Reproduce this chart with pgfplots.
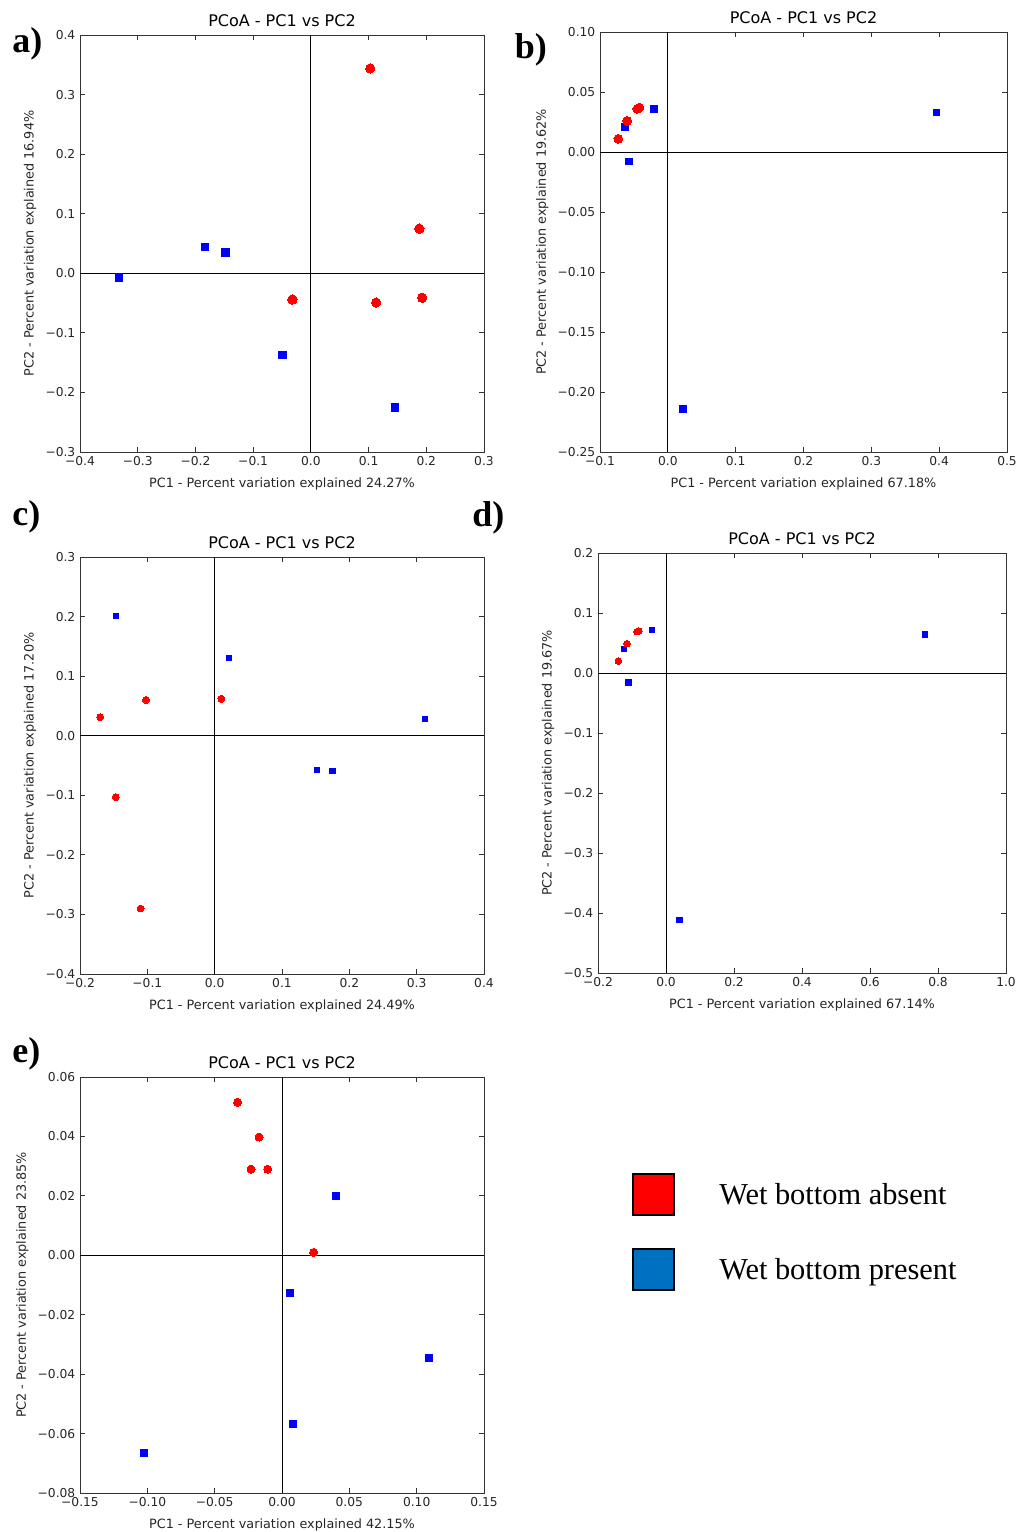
\documentclass[border=0pt]{standalone}
\usepackage{fontspec}
\setmainfont{DejaVu Sans}
\newfontfamily\serifface{Liberation Serif}
\usepackage{pgfplots}
\pgfplotsset{compat=1.18}
\definecolor{absentred}{RGB}{255,0,0}
\definecolor{presentblue}{RGB}{0,0,255}
\definecolor{legendblue}{RGB}{0,112,192}

% 1px of the reference = 0.75pt
\pgfplotsset{
  pcoa/.style={
    scale only axis,
    anchor=north west,
    scaled ticks=false,
    axis line style={black!80, line width=0.6pt},
    tick align=inside,
    major tick length=3.6pt,
    every tick/.style={black!80, line width=0.6pt},
    title={PCoA - PC1 vs PC2},
    every axis title shift=0pt,
    title style={font=\fontsize{12}{14}\selectfont, at={(0.5,1)}, anchor=base, yshift=6.75pt},
    tick label style={font=\fontsize{9.2}{11}\selectfont, black!85},
    label style={font=\fontsize{9.6}{11}\selectfont, black!85},
    xlabel style={at={(axis description cs:0.5,0)}, anchor=base, yshift=-26.25pt},
    clip=false,
  },
  absent/.style={only marks, mark=*, mark size=#1, absentred,
    mark options={draw=absentred, fill=absentred, line width=0pt}},
  present/.style={only marks, mark=square*, mark size=#1, presentblue,
    mark options={draw=presentblue, fill=presentblue, line width=0pt}},
  zeroline/.style={black, line width=0.6pt, forget plot},
}

\begin{document}
\begin{tikzpicture}
\path[use as bounding box] (0,0) rectangle (762pt,-1149pt);

% ---------------- a ----------------
\begin{axis}[pcoa, at={(60pt,-26.25pt)}, width=303pt, height=312.75pt,
  xmin=-0.4, xmax=0.3, ymin=-0.3, ymax=0.4,
  xtick={-0.4,-0.3,-0.2,-0.1,0,0.1,0.2,0.3},
  xticklabels={−0.4,−0.3,−0.2,−0.1,0.0,0.1,0.2,0.3},
  ytick={-0.3,-0.2,-0.1,0,0.1,0.2,0.3,0.4},
  yticklabels={−0.3,−0.2,−0.1,0.0,0.1,0.2,0.3,0.4},
  xlabel={PC1 - Percent variation explained 24.27\%},
  ylabel={PC2 - Percent variation explained 16.94\%}]
\addplot[zeroline] coordinates {(-0.4,0) (0.3,0)};
\addplot[zeroline] coordinates {(0,-0.3) (0,0.4)};
\addplot[present=2.8pt] coordinates {
  (-0.332,-0.007) (-0.183,0.044) (-0.148,0.035) (-0.049,-0.137) (0.146,-0.225)};
\addplot[absent=3.5pt] coordinates {
  (0.103,0.344) (0.188,0.075) (-0.032,-0.044) (0.113,-0.049) (0.193,-0.041)};
\end{axis}

% ---------------- b ----------------
\begin{axis}[pcoa, at={(450pt,-24pt)}, width=305.25pt, height=315pt,
  xmin=-0.1, xmax=0.5, ymin=-0.25, ymax=0.10,
  xtick={-0.1,0,0.1,0.2,0.3,0.4,0.5},
  xticklabels={−0.1,0.0,0.1,0.2,0.3,0.4,0.5},
  ytick={-0.25,-0.2,-0.15,-0.1,-0.05,0,0.05,0.1},
  yticklabels={−0.25,−0.20,−0.15,−0.10,−0.05,0.00,0.05,0.10},
  xlabel={PC1 - Percent variation explained 67.18\%},
  ylabel={PC2 - Percent variation explained 19.62\%}]
\addplot[zeroline] coordinates {(-0.1,0) (0.5,0)};
\addplot[zeroline] coordinates {(0,-0.25) (0,0.10)};
\addplot[present=2.5pt] coordinates {
  (-0.063,0.021) (-0.057,-0.008) (-0.020,0.036) (0.396,0.033) (0.022,-0.214)};
\addplot[absent=3.3pt] coordinates {
  (-0.073,0.011) (-0.060,0.026) (-0.045,0.036) (-0.042,0.037)};
\end{axis}

% ---------------- c ----------------
\begin{axis}[pcoa, at={(60pt,-417.75pt)}, width=303pt, height=312.75pt,
  xmin=-0.2, xmax=0.4, ymin=-0.4, ymax=0.3,
  xtick={-0.2,-0.1,0,0.1,0.2,0.3,0.4},
  xticklabels={−0.2,−0.1,0.0,0.1,0.2,0.3,0.4},
  ytick={-0.4,-0.3,-0.2,-0.1,0,0.1,0.2,0.3},
  yticklabels={−0.4,−0.3,−0.2,−0.1,0.0,0.1,0.2,0.3},
  xlabel={PC1 - Percent variation explained 24.49\%},
  ylabel={PC2 - Percent variation explained 17.20\%}]
\addplot[zeroline] coordinates {(-0.2,0) (0.4,0)};
\addplot[zeroline] coordinates {(0,-0.4) (0,0.3)};
\addplot[present=2.0pt] coordinates {
  (-0.147,0.201) (0.021,0.130) (0.312,0.028) (0.152,-0.057) (0.175,-0.059)};
\addplot[absent=2.6pt] coordinates {
  (-0.170,0.031) (-0.102,0.060) (0.010,0.062) (-0.147,-0.103) (-0.110,-0.290)};
\end{axis}

% ---------------- d ----------------
\begin{axis}[pcoa, at={(448.5pt,-414.75pt)}, width=306pt, height=315pt,
  xmin=-0.2, xmax=1.0, ymin=-0.5, ymax=0.2,
  xtick={-0.2,0,0.2,0.4,0.6,0.8,1.0},
  xticklabels={−0.2,0.0,0.2,0.4,0.6,0.8,1.0},
  ytick={-0.5,-0.4,-0.3,-0.2,-0.1,0,0.1,0.2},
  yticklabels={−0.5,−0.4,−0.3,−0.2,−0.1,0.0,0.1,0.2},
  xlabel={PC1 - Percent variation explained 67.14\%},
  ylabel={PC2 - Percent variation explained 19.67\%}]
\addplot[zeroline] coordinates {(-0.2,0) (1.0,0)};
\addplot[zeroline] coordinates {(0,-0.5) (0,0.2)};
\addplot[present=2.0pt] coordinates {
  (-0.123,0.040) (-0.110,-0.016) (-0.041,0.072) (0.762,0.064) (0.040,-0.412)};
\addplot[absent=2.5pt] coordinates {
  (-0.140,0.020) (-0.115,0.049) (-0.085,0.069) (-0.080,0.070)};
\end{axis}

% ---------------- e ----------------
\begin{axis}[pcoa, at={(60pt,-807.75pt)}, width=303pt, height=312pt,
  xmin=-0.15, xmax=0.15, ymin=-0.08, ymax=0.06,
  xtick={-0.15,-0.1,-0.05,0,0.05,0.1,0.15},
  xticklabels={−0.15,−0.10,−0.05,0.00,0.05,0.10,0.15},
  ytick={-0.08,-0.06,-0.04,-0.02,0,0.02,0.04,0.06},
  yticklabels={−0.08,−0.06,−0.04,−0.02,0.00,0.02,0.04,0.06},
  xlabel={PC1 - Percent variation explained 42.15\%},
  ylabel={PC2 - Percent variation explained 23.85\%},
  legend cell align=left,
  legend style={at={(axis description cs:1.3663,0.7692)}, anchor=north west,
    draw=none, fill=none, inner sep=0pt, row sep=24pt, column sep=33pt,
    font=\serifface\fontsize{22.8}{26}\selectfont,
    nodes={inner sep=0pt, text height=14pt, text depth=0pt}}]
\addplot[zeroline] coordinates {(-0.15,0) (0.15,0)};
\addplot[zeroline] coordinates {(0,-0.08) (0,0.06)};
\addplot[present=2.5pt, forget plot] coordinates {
  (0.040,0.020) (0.006,-0.0126) (0.109,-0.0345) (0.008,-0.0568) (-0.1025,-0.0665)};
\addplot[absent=3.0pt, forget plot] coordinates {
  (-0.033,0.0515) (-0.017,0.0398) (-0.023,0.029) (-0.0106,0.029) (0.0235,0.001)};
\addlegendimage{legend image code/.code={
  \draw[black, line width=1.5pt, fill=absentred] (0pt,-15.375pt) rectangle (30.75pt,15.375pt);}}
\addlegendentry{Wet bottom absent}
\addlegendimage{legend image code/.code={
  \draw[black, line width=1.5pt, fill=legendblue] (0pt,-15.375pt) rectangle (30.75pt,15.375pt);}}
\addlegendentry{Wet bottom present}
\end{axis}

% panel letters
\node[anchor=base west, inner sep=0pt, font=\serifface\bfseries\fontsize{27}{30}\selectfont] at (9pt,-39pt) {a)};
\node[anchor=base west, inner sep=0pt, font=\serifface\bfseries\fontsize{27}{30}\selectfont] at (386pt,-43.5pt) {b)};
\node[anchor=base west, inner sep=0pt, font=\serifface\bfseries\fontsize{27}{30}\selectfont] at (9pt,-393.75pt) {c)};
\node[anchor=base west, inner sep=0pt, font=\serifface\bfseries\fontsize{27}{30}\selectfont] at (354pt,-394.5pt) {d)};
\node[anchor=base west, inner sep=0pt, font=\serifface\bfseries\fontsize{27}{30}\selectfont] at (9pt,-796.5pt) {e)};
\end{tikzpicture}
\end{document}
